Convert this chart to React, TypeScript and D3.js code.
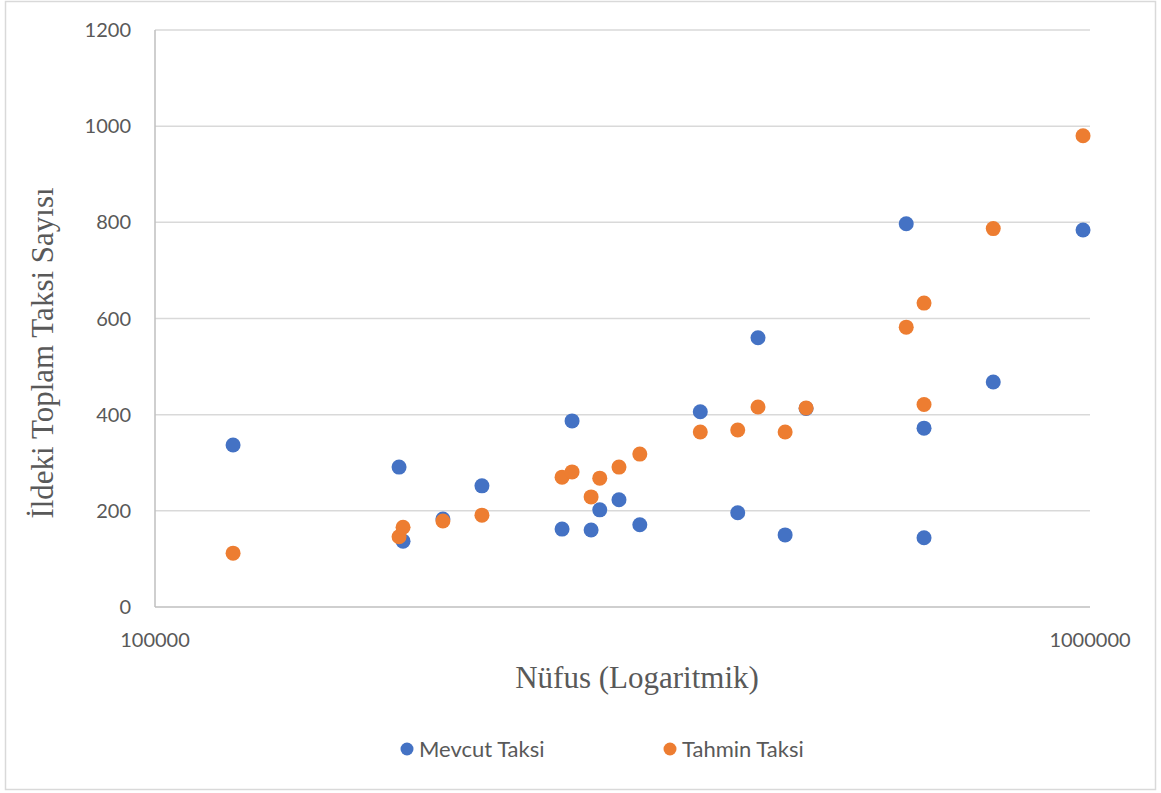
import React from "react";
import * as d3 from "d3";

const W = 1161;
const H = 793;

// Mevcut Taksi (population, taxi count)
const mevcutPop = [121200, 182400, 184200, 203200, 223700, 272500, 279300, 292700, 299000, 313500, 330000, 383000, 420000, 441500, 472000, 497000, 636000, 664500, 664500, 788000, 983000];
const mevcutVal = [337, 291, 137, 183, 252, 162, 387, 160, 202, 223, 171, 406, 196, 560, 150, 413, 797, 372, 144, 468, 784];

// Tahmin Taksi
const tahminPop = [121200, 182400, 184200, 203200, 223700, 272500, 279300, 292700, 299000, 313500, 330000, 383000, 420000, 441500, 472000, 497000, 636000, 664500, 664500, 788000, 983000];
const tahminVal = [112, 146, 166, 179, 191, 270, 281, 229, 268, 291, 318, 364, 368, 416, 364, 414, 582, 632, 421, 787, 980];

const yTicks = [0, 200, 400, 600, 800, 1000, 1200];
const xTicks = [100000, 1000000];

const seriesNames = ["Mevcut Taksi", "Tahmin Taksi"];
const colors = ["#4472C4", "#ED7D31"];

export default function App() {
  const left = 155, right = 1090, top = 30, bottom = 607;
  const x = d3.scaleLog().domain([100000, 1000000]).range([left, right]);
  const y = d3.scaleLinear().domain([0, 1200]).range([bottom, top]);
  const textColor = "#595959";
  const tickFont = "Lato, 'Open Sans', sans-serif";
  const serif = "'Liberation Serif', 'Times New Roman', serif";

  const mevcut = mevcutPop.map((p, i) => ({ p, v: mevcutVal[i] }));
  const tahmin = tahminPop.map((p, i) => ({ p, v: tahminVal[i] }));

  return (
    <svg width={W} height={H} style={{ position: "absolute", left: 0, top: 0, background: "#fff" }}>
      <rect x={5.5} y={1.5} width={1150} height={788} fill="#fff" stroke="#d9d9d9" strokeWidth={1.5} />
      {yTicks.map((t) => (
        <g key={t}>
          {t > 0 && (
            <line x1={left} x2={right} y1={y(t)} y2={y(t)} stroke="#d9d9d9" strokeWidth={1.5} />
          )}
          <text x={131} y={y(t)} dy="0.35em" textAnchor="end" fontFamily={tickFont} fontSize={20} fill={textColor}>
            {t}
          </text>
        </g>
      ))}
      <line x1={left} x2={left} y1={top} y2={bottom} stroke="#bfbfbf" strokeWidth={1.5} />
      <line x1={left} x2={right} y1={bottom} y2={bottom} stroke="#bfbfbf" strokeWidth={1.5} />
      {xTicks.map((t) => (
        <text key={t} x={x(t)} y={640} dy="0.35em" textAnchor="middle" fontFamily={tickFont} fontSize={20} fill={textColor}>
          {t}
        </text>
      ))}
      <text x={637} y={677} dy="0.35em" textAnchor="middle" fontFamily={serif} fontSize={31} fill={textColor}>
        Nüfus (Logaritmik)
      </text>
      <text
        transform={`translate(42, 353) rotate(-90)`}
        dy="0.35em"
        textAnchor="middle"
        fontFamily={serif}
        fontSize={31}
        fill={textColor}
      >
        İldeki Toplam Taksi Sayısı
      </text>
      {mevcut.map((d, i) => (
        <circle key={"m" + i} cx={x(d.p)} cy={y(d.v)} r={7.5} fill={colors[0]} />
      ))}
      {tahmin.map((d, i) => (
        <circle key={"t" + i} cx={x(d.p)} cy={y(d.v)} r={7.5} fill={colors[1]} />
      ))}
      {seriesNames.map((n, i) => (
        <g key={n} transform={`translate(${i === 0 ? 407 : 670}, 749)`}>
          <circle cx={0} cy={0} r={6.5} fill={colors[i]} />
          <text x={12} y={0} dy="0.35em" fontFamily={tickFont} fontSize={22} fill={textColor}>
            {n}
          </text>
        </g>
      ))}
    </svg>
  );
}
